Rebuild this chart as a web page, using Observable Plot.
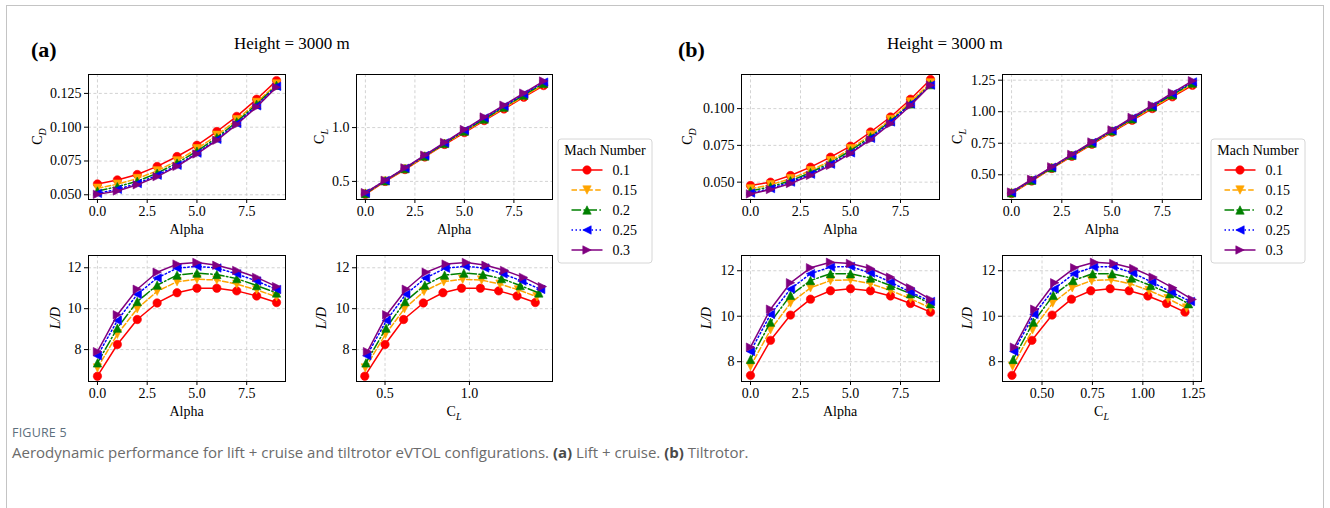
<!DOCTYPE html>
<html><head><meta charset="utf-8">
<script src="https://cdn.jsdelivr.net/npm/d3@7"></script>
<script src="https://cdn.jsdelivr.net/npm/@observablehq/plot@0.6"></script>
<style>
body{margin:0;background:#fff;}
#root{position:relative;width:1330px;height:508px;overflow:hidden;font-family:"Liberation Serif",serif;}
#root svg text{font-family:"Liberation Serif",serif !important;}
#root svg g[aria-label="x-axis tick label"], #root svg g[aria-label="y-axis tick label"]{font-size:14px !important;font-family:"Liberation Serif",serif !important;font-variant:normal !important;}
#frame{position:absolute;left:6px;top:5px;width:1318px;height:600px;border:1px solid #c4c4c4;box-sizing:border-box;}
.cap1{position:absolute;left:12px;top:424px;font-family:"Open Sans",sans-serif;font-size:12.5px;color:#5d6f7d;letter-spacing:0.2px;}
.cap2{position:absolute;left:12px;top:442px;font-family:"Open Sans",sans-serif;font-size:15px;color:#6b6b6b;white-space:nowrap;}
.cap2 b{color:#4a4a4a;}
</style></head><body><div id="root"><div id="frame"></div>
<div class="cap1">FIGURE 5</div>
<div class="cap2">Aerodynamic performance for lift + cruise and tiltrotor eVTOL configurations. <b>(a)</b> Lift + cruise. <b>(b)</b> Tiltrotor.</div>
</div>
<script>
// ---------------- data ----------------
const alpha = [0, 1, 2, 3, 4, 5, 6, 7, 8, 9];
const machs = ["0.1", "0.15", "0.2", "0.25", "0.3"];

// (a) Lift + cruise
const cdA = [
  [0.0580, 0.0610, 0.0650, 0.0710, 0.0783, 0.0866, 0.0968, 0.1080, 0.1207, 0.1345],
  [0.0548, 0.0578, 0.0620, 0.0677, 0.0751, 0.0840, 0.0940, 0.1055, 0.1183, 0.1320],
  [0.0528, 0.0560, 0.0600, 0.0660, 0.0735, 0.0823, 0.0923, 0.1040, 0.1170, 0.1310],
  [0.0510, 0.0540, 0.0583, 0.0645, 0.0718, 0.0808, 0.0910, 0.1028, 0.1158, 0.1302],
  [0.0503, 0.0528, 0.0574, 0.0634, 0.0710, 0.0802, 0.0903, 0.1020, 0.1150, 0.1295]
];
const clA = [
  [0.380, 0.500, 0.610, 0.727, 0.843, 0.953, 1.065, 1.173, 1.282, 1.390],
  [0.383, 0.503, 0.615, 0.731, 0.848, 0.960, 1.072, 1.181, 1.290, 1.400],
  [0.387, 0.506, 0.619, 0.736, 0.853, 0.967, 1.080, 1.190, 1.301, 1.411],
  [0.392, 0.508, 0.623, 0.740, 0.858, 0.975, 1.090, 1.199, 1.311, 1.422],
  [0.396, 0.510, 0.626, 0.744, 0.862, 0.982, 1.098, 1.208, 1.320, 1.432]
];
const ldA = [
  [6.70, 8.25, 9.47, 10.28, 10.78, 11.00, 11.00, 10.87, 10.62, 10.30],
  [7.10, 8.75, 10.00, 10.85, 11.32, 11.44, 11.40, 11.20, 10.92, 10.58],
  [7.35, 9.05, 10.35, 11.15, 11.64, 11.74, 11.67, 11.47, 11.13, 10.77],
  [7.70, 9.42, 10.70, 11.50, 11.98, 12.07, 11.99, 11.70, 11.35, 10.94],
  [7.90, 9.70, 10.95, 11.78, 12.18, 12.26, 12.12, 11.87, 11.53, 11.08]
];

// (b) Tiltrotor
const cdB = [
  [0.0477, 0.0500, 0.0545, 0.0602, 0.0670, 0.0745, 0.0841, 0.0943, 0.1064, 0.1198],
  [0.0454, 0.0482, 0.0523, 0.0578, 0.0645, 0.0727, 0.0820, 0.0926, 0.1045, 0.1175],
  [0.0440, 0.0469, 0.0509, 0.0565, 0.0633, 0.0714, 0.0808, 0.0916, 0.1032, 0.1163],
  [0.0426, 0.0456, 0.0500, 0.0554, 0.0622, 0.0699, 0.0798, 0.0909, 0.1032, 0.1160],
  [0.0420, 0.0450, 0.0491, 0.0546, 0.0614, 0.0695, 0.0789, 0.0897, 0.1021, 0.1159]
];
const clB = [
  [0.351, 0.450, 0.550, 0.646, 0.742, 0.838, 0.932, 1.025, 1.118, 1.209],
  [0.354, 0.453, 0.553, 0.650, 0.746, 0.843, 0.937, 1.031, 1.125, 1.217],
  [0.357, 0.457, 0.556, 0.654, 0.751, 0.848, 0.944, 1.039, 1.134, 1.227],
  [0.360, 0.460, 0.560, 0.658, 0.756, 0.852, 0.950, 1.045, 1.142, 1.236],
  [0.363, 0.464, 0.563, 0.662, 0.760, 0.856, 0.955, 1.051, 1.149, 1.245]
];
const ldB = [
  [7.40, 8.94, 10.05, 10.75, 11.12, 11.21, 11.12, 10.89, 10.56, 10.18],
  [7.80, 9.40, 10.58, 11.25, 11.57, 11.60, 11.43, 11.13, 10.77, 10.36],
  [8.10, 9.74, 10.92, 11.57, 11.87, 11.87, 11.68, 11.35, 10.99, 10.55],
  [8.45, 10.08, 11.20, 11.87, 12.16, 12.19, 11.90, 11.50, 11.06, 10.65],
  [8.64, 10.31, 11.47, 12.13, 12.37, 12.32, 12.10, 11.72, 11.25, 10.74]
];

// tick labels
const alphaTicks = [0, 2.5, 5, 7.5];
const cdTicksA = [0.050, 0.075, 0.100, 0.125];
const clTicksA = [0.5, 1.0];
const ldTicks = [8, 10, 12];
const cdTicksB = [0.050, 0.075, 0.100];
const clTicksB = [0.50, 0.75, 1.00, 1.25];

// ---------------- styles ----------------
const colors = ["red", "orange", "green", "blue", "purple"];
const dashes = [undefined, "5.5,2.4", "9.6,2.4,1.5,2.4", "1.5,2.5", undefined];
const MR_R = 4.2;
function tri(rot) {
  return {
    draw(ctx, size) {
      const r = Math.sqrt(size / Math.PI);
      const pts = [[0, -r], [-r, r], [r, r]];
      const a = rot * Math.PI / 180, c = Math.cos(a), s = Math.sin(a);
      pts.forEach(([x, y], i) => {
        const X = x * c - y * s, Y = x * s + y * c;
        i ? ctx.lineTo(X, Y) : ctx.moveTo(X, Y);
      });
      ctx.closePath();
    }
  };
}
const circ = {draw(ctx, size) { const r = Math.sqrt(size / Math.PI); ctx.moveTo(r, 0); ctx.arc(0, 0, r, 0, 2 * Math.PI); }};
const symbols = [circ, tri(180), tri(0), tri(-90), tri(90)];

const root = document.getElementById("root");
const FONT = "Liberation Serif";

function addLabel(sel, x, y, parts, rotate) {
  const t = sel.append("text")
    .attr("text-anchor", "middle")
    .attr("font-family", FONT).attr("font-size", 14).attr("fill", "black")
    .attr("transform", `translate(${x},${y})` + (rotate ? " rotate(-90)" : ""));
  parts.forEach(p => {
    const ts = t.append("tspan").text(p.t);
    if (p.it) ts.attr("font-style", "italic");
    if (p.sub) ts.attr("font-size", 10).attr("dy", "0.35em");
  });
}

function panel(p) {
  const ML = 75, MR = 12, MT = 12, MB = 48;
  const w = p.r - p.l, h = p.b - p.t;
  const grid = {stroke: "#c8c8c8", strokeOpacity: 1, strokeWidth: 0.8, strokeDasharray: "3,2.4"};
  const marks = [Plot.gridX(p.xTicks, grid), Plot.gridY(p.yTicks, grid)];
  machs.forEach((m, i) => {
    const d = alpha.map((a, j) => ({mach: m, x: p.X[i][j], y: p.Y[i][j]}));
    marks.push(Plot.line(d, {x: "x", y: "y", stroke: colors[i], strokeWidth: 1.5, strokeDasharray: dashes[i]}));
    marks.push(Plot.dot(d, {x: "x", y: "y", symbol: symbols[i], r: MR_R, fill: colors[i], stroke: colors[i], strokeWidth: 0.6}));
  });
  marks.push(Plot.frame({stroke: "black", strokeWidth: 1}));
  marks.push(Plot.axisX({ticks: p.xTicks, tickFormat: d3.format(p.xFmt), tickSize: 4, tickPadding: 3, label: null, fontSize: 14, fontFamily: FONT}));
  marks.push(Plot.axisY({ticks: p.yTicks, tickFormat: d3.format(p.yFmt), tickSize: 4, tickPadding: 3, label: null, fontSize: 14, fontFamily: FONT}));
  const svg = Plot.plot({
    width: w + ML + MR, height: h + MT + MB,
    marginLeft: ML, marginRight: MR, marginTop: MT, marginBottom: MB,
    x: {domain: p.xDomain}, y: {domain: p.yDomain},
    style: {fontFamily: FONT, fontSize: "14px", color: "black", background: "transparent", overflow: "visible"},
    marks
  });
  svg.style.position = "absolute";
  svg.style.left = (p.l - ML) + "px";
  svg.style.top = (p.t - MT) + "px";
  root.appendChild(svg);
  const s = d3.select(svg);
  addLabel(s, ML + w / 2, MT + h + 35, p.xlab, false);
  addLabel(s, ML - p.yoff, MT + h / 2, p.ylab, true);
}

const LAlpha = [{t: "Alpha"}];
const LCD = [{t: "C"}, {t: "D", it: true, sub: true}];
const LCL = [{t: "C"}, {t: "L", it: true, sub: true}];
const LLD = [{t: "L/D", it: true}];
const axA = [-0.45, 9.45];
const alphaX = machs.map(() => alpha);

// (a)
panel({l: 88, r: 285, t: 74, b: 199, X: alphaX, Y: cdA, xDomain: axA, yDomain: [0.0465, 0.139], xTicks: alphaTicks, yTicks: cdTicksA, xFmt: ".1f", yFmt: ".3f", xlab: LAlpha, ylab: LCD, yoff: 46});
panel({l: 356, r: 552, t: 74, b: 199, X: alphaX, Y: clA, xDomain: axA, yDomain: [0.332, 1.493], xTicks: alphaTicks, yTicks: clTicksA, xFmt: ".1f", yFmt: ".1f", xlab: LAlpha, ylab: LCL, yoff: 32});
panel({l: 88, r: 285, t: 255, b: 381, X: alphaX, Y: ldA, xDomain: axA, yDomain: [6.44, 12.6], xTicks: alphaTicks, yTicks: ldTicks, xFmt: ".1f", yFmt: "d", xlab: LAlpha, ylab: LLD, yoff: 28});
panel({l: 356, r: 552, t: 255, b: 381, X: clA, Y: ldA, xDomain: [0.331, 1.492], yDomain: [6.44, 12.6], xTicks: clTicksA, yTicks: ldTicks, xFmt: ".1f", yFmt: "d", xlab: LCL, ylab: LLD, yoff: 30});
// (b)
panel({l: 741, r: 939, t: 74, b: 199, X: alphaX, Y: cdB, xDomain: axA, yDomain: [0.0382, 0.1232], xTicks: alphaTicks, yTicks: cdTicksB, xFmt: ".1f", yFmt: ".3f", xlab: LAlpha, ylab: LCD, yoff: 49});
panel({l: 1002, r: 1201, t: 74, b: 199, X: alphaX, Y: clB, xDomain: axA, yDomain: [0.304, 1.295], xTicks: alphaTicks, yTicks: clTicksB, xFmt: ".1f", yFmt: ".2f", xlab: LAlpha, ylab: LCL, yoff: 40});
panel({l: 741, r: 939, t: 255, b: 381, X: alphaX, Y: ldB, xDomain: axA, yDomain: [7.13, 12.67], xTicks: alphaTicks, yTicks: ldTicks, xFmt: ".1f", yFmt: "d", xlab: LAlpha, ylab: LLD, yoff: 30});
panel({l: 1002, r: 1201, t: 255, b: 381, X: clB, Y: ldB, xDomain: [0.304, 1.291], yDomain: [7.13, 12.67], xTicks: clTicksB, yTicks: ldTicks, xFmt: ".2f", yFmt: "d", xlab: LCL, ylab: LLD, yoff: 30});

// ---------------- overlay: titles + legends ----------------
const ov = d3.select(root).append("svg")
  .attr("width", 1330).attr("height", 508)
  .style("position", "absolute").style("left", 0).style("top", 0).style("pointer-events", "none");

[["(a)", 31, "Height = 3000 m", 234], ["(b)", 678, "Height = 3000 m", 887]].forEach(([tag, tx, title, hx]) => {
  ov.append("text").attr("x", tx).attr("y", 57).attr("font-family", FONT).attr("font-weight", "bold").attr("font-size", 22).text(tag);
  ov.append("text").attr("x", hx).attr("y", 48.5).attr("font-family", FONT).attr("font-size", 17).text(title);
});

function legend(lx, ly) {
  const g = ov.append("g").attr("transform", `translate(${lx},${ly})`);
  g.append("rect").attr("width", 94).attr("height", 124).attr("rx", 3).attr("fill", "white").attr("fill-opacity", 0.8).attr("stroke", "#d6d6d6");
  g.append("text").attr("x", 47).attr("y", 16).attr("text-anchor", "middle").attr("font-family", FONT).attr("font-size", 14).text("Mach Number");
  machs.forEach((m, i) => {
    const y = 31 + i * 20;
    g.append("line").attr("x1", 13.5).attr("x2", 44.5).attr("y1", y).attr("y2", y)
      .attr("stroke", colors[i]).attr("stroke-width", 1.5).attr("stroke-dasharray", dashes[i] || null);
    g.append("path").attr("d", d3.symbol(symbols[i], MR_R * MR_R * Math.PI)()).attr("transform", `translate(29,${y})`)
      .attr("fill", colors[i]).attr("stroke", colors[i]).attr("stroke-width", 0.6);
    g.append("text").attr("x", 54.5).attr("y", y + 5).attr("font-family", FONT).attr("font-size", 14).text(m);
  });
}
legend(558, 139);
legend(1211, 139);
</script></body></html>
